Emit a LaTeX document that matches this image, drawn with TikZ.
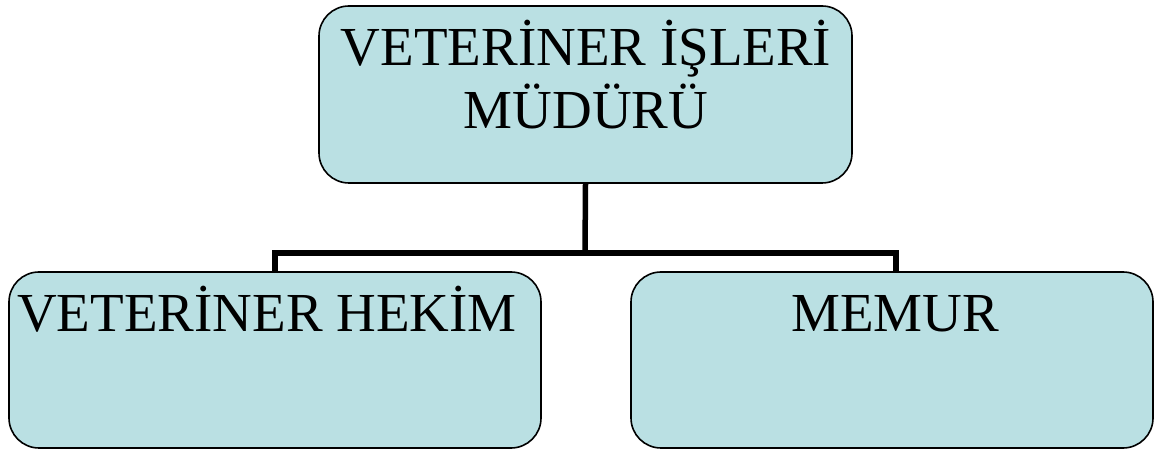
\documentclass[tikz,border=0pt]{standalone}
\usepackage{fontspec}
\setmainfont{Liberation Serif}
\definecolor{boxfill}{RGB}{186,224,227}
\begin{document}
\begin{tikzpicture}[x=1pt,y=1pt,
  orgbox/.style={draw=black,line width=1.6pt,fill=boxfill,rounded corners=30pt,inner sep=0pt},
  lbl/.style={anchor=base,inner sep=0pt,font=\fontsize{55}{64}\selectfont},
  conn/.style={line width=5.5pt}]
\useasboundingbox (0,0) rectangle (1155,449);
\node[orgbox,minimum width=533pt,minimum height=177pt] (top) at (585.5,354.5) {};
\node[orgbox,minimum width=532pt,minimum height=176pt] (left) at (275,89) {};
\node[orgbox,minimum width=522pt,minimum height=176pt] (right) at (892,89) {};
\node[lbl] (t1) at (586,383) {VETERİNER İŞLERİ};
\node[lbl] (t2) at (586,320) {MÜDÜRÜ};
\node[lbl] (l1) at (267,117) {VETERİNER HEKİM};
\node[lbl] (r1) at (895,117) {MEMUR};
\coordinate (jn) at (585,196);
\coordinate (rdrop) at (896,177);
\draw[conn] (top.south) -- (jn);
\draw[conn] (jn) -| (left.north);
\draw[conn] (jn) -| (rdrop);
\end{tikzpicture}
\end{document}
